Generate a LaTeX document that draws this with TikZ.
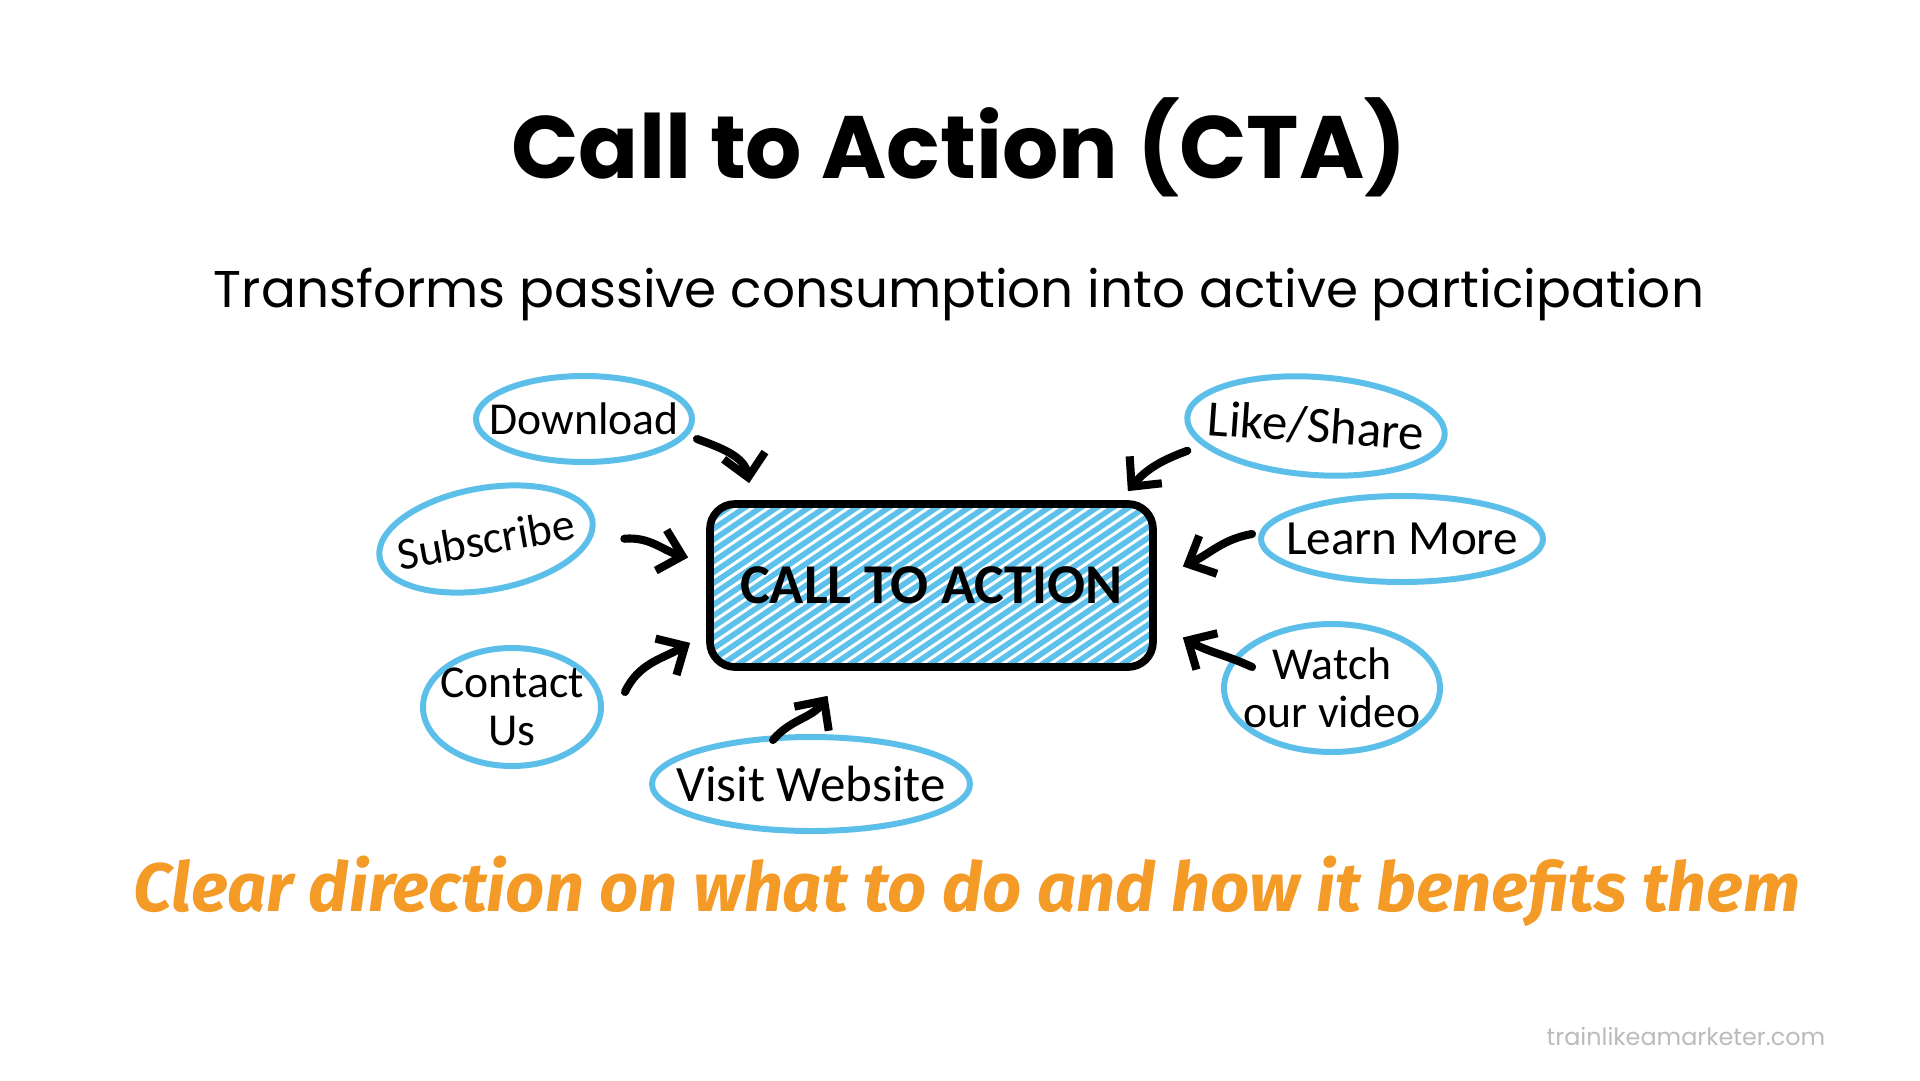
\documentclass[tikz,border=0pt]{standalone}
\usepackage{fontspec}
\setmainfont{Poppins}
\newfontfamily\handfont{Carlito}
\newfontfamily\brushfont{Fira Sans}
\usepackage{tikz}
\usetikzlibrary{arrows.meta,calc,shapes.geometric}
\usepackage{xcolor}
\definecolor{ctablue}{HTML}{5EC1EC}
\definecolor{bubblue}{HTML}{5BBFE9}
\definecolor{ctaorange}{HTML}{F39A27}
\definecolor{wmgray}{HTML}{BBBBBB}
\tikzset{
  ctabox/.style = {draw, line width=2.2pt, rounded corners=2.5mm, fill=ctablue,
                   minimum width=44.3mm, minimum height=16.3mm,
                   font=\handfont\bfseries\fontsize{16}{19}\selectfont,
                   path picture={\foreach \k in {0,...,44}
                     \draw[white, line width=0.3mm]
                       ([xshift={\k*1.6mm-24mm}]path picture bounding box.south west) -- ++(240,163);}},
  bubble/.style = {draw=bubblue, line width=1.7pt, ellipse, inner xsep=-10mm, inner ysep=-10mm,
                   align=center, font=\handfont\fontsize{13}{13.5}\selectfont},
  arr/.style    = {-{Straight Barb[length=2.2mm,width=4.2mm]}, line width=2.3pt, line cap=round},
}
\begin{document}
\begin{tikzpicture}[x=0.1mm,y=0.1mm]
\useasboundingbox[fill=white] (0,0) rectangle (1920,1080);
\node[font=\bfseries\fontsize{25.2}{30}\selectfont] (title) at (959,933) {Call to Action (CTA)};
\node[font=\fontsize{14.7}{18}\selectfont] (subtitle) at (959,786) {Transforms passive consumption into active participation};
% centre box
\node[ctabox] (cta) at (931.5,494.5) {CALL TO ACTION};
% bubbles
\node[bubble, minimum width=21.6mm, minimum height=8.6mm] (dl) at (584,661) {Download};
\node[bubble, minimum width=21.6mm, minimum height=10.2mm, rotate=10] (sub) at (486,541) {Subscribe};
\node[bubble, minimum width=17.8mm, minimum height=11.8mm] (con) at (512,373) {Contact\\Us};
\node[bubble, minimum width=31.8mm, minimum height=9.4mm, font=\handfont\fontsize{14.5}{15}\selectfont] (vis) at (811,296) {Visit Website};
\node[bubble, minimum width=25.8mm, minimum height=9.8mm, rotate=-4, font=\handfont\fontsize{14.5}{15}\selectfont] (like) at (1316,654) {Like/Share};
\node[bubble, minimum width=28.2mm, minimum height=8.6mm, font=\handfont\fontsize{14}{15}\selectfont] (learn) at (1402,541) {Learn More};
\node[bubble, minimum width=21.6mm, minimum height=12.8mm] (watch) at (1332,392) {Watch\\our video};
% arrows into the box
\draw[arr] ($(dl.east)+(2,-20)$) to[out=-20,in=100] ($(cta.north west)+(43,17)$);
\draw[arr] ($(sub.east)+(29,-19)$) to[out=5,in=165] ($(cta.west)+(-18,28)$);
\draw[arr] ($(con.east)+(21,15)$) to[out=65,in=210] ($(cta.south west)+(-16,28)$);
\draw[arr] ($(vis.north)+(-38,-6)$) to[out=50,in=235] ($(cta.south)+(-104,-25)$);
\draw[arr] ($(like.west)+(3,-34)$) to[out=200,in=50] ($(cta.north east)+(-29,9)$);
\draw[arr] ($(learn.west)+(-6,5)$) to[out=190,in=25] ($(cta.east)+(26,19)$);
\draw[arr] ($(watch.west)+(31,21)$) to[out=155,in=-30] ($(cta.east)+(26,-52)$);
\node[font=\brushfont\bfseries\itshape\fontsize{19.5}{23}\selectfont, text=ctaorange] (tagline) at (967,189) {Clear direction on what to do and how it benefits them};
\node[font=\fontsize{6.8}{8}\selectfont, text=wmgray] (site) at (1686,43) {trainlikeamarketer.com};
\end{tikzpicture}
\end{document}
